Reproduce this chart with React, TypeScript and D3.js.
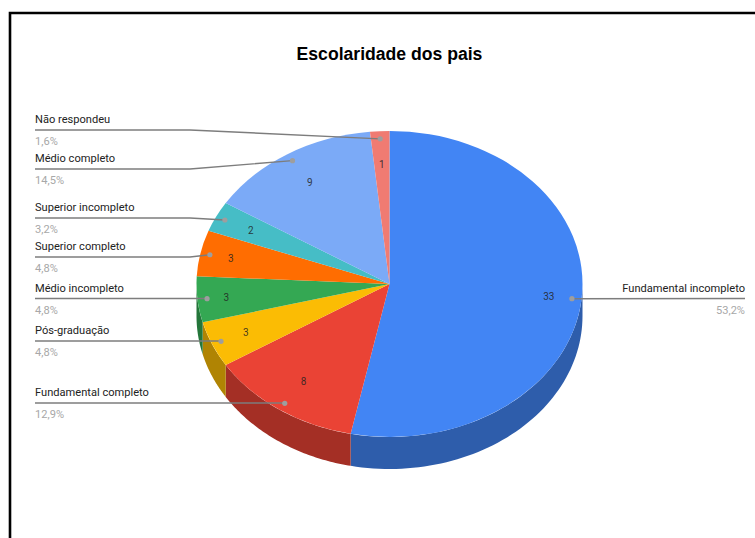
import React from "react";
import * as d3 from "d3";

const categories = ["Fundamental incompleto", "Fundamental completo", "Pós-graduação", "Médio incompleto", "Superior completo", "Superior incompleto", "Médio completo", "Não respondeu"];
const counts = [33, 8, 3, 3, 3, 2, 9, 1];
const percentLabels = ["53,2%", "12,9%", "4,8%", "4,8%", "4,8%", "3,2%", "14,5%", "1,6%"];
const colors = ["#4285f4", "#ea4335", "#fbbc04", "#34a853", "#ff6d01", "#46bdc6", "#7baaf7", "#f07b72"];
const title = "Escolaridade dos pais";

// layout per slice
const leaderY = [298.5, 403, 341, 298.5, 257, 218, 169, 130];
const valueRadius = [0.83, 0.78, 0.81, 0.85, 0.84, 0.8, 0.78, 0.78];

const W = 755, H = 538;
const cx = 389.5, cy = 284, rx = 193, ry = 153, depth = 32;
const leftX = 35, rightX = 745, elbowX = 190;
const sy = ry / rx;
const font = "Roboto, Arial, sans-serif";

const pieGen = d3.pie<number>().sort(null).value((d) => d);
const arcs = pieGen(counts);
const arcGen = d3.arc<d3.PieArcDatum<number>>().innerRadius(0).outerRadius(rx);
const project = (a: number, f = 1, dy = 0): [number, number] => [
  cx + rx * f * Math.sin(a),
  cy - ry * f * Math.cos(a) + dy,
];
const lineGen = d3.line<[number, number]>();

function wallPath(start: number, end: number) {
  const a0 = Math.max(start, Math.PI / 2);
  const a1 = Math.min(end, (3 * Math.PI) / 2);
  if (a1 <= a0) return null;
  const angles = d3.range(0, 61).map((i) => a0 + ((a1 - a0) * i) / 60);
  const top = angles.map((a) => project(a));
  const bottom = angles.slice().reverse().map((a) => project(a, 1, depth));
  return lineGen([...top, ...bottom]) + "Z";
}

export default function App() {
  return (
    <svg width={W} height={H} style={{ position: "absolute", left: 0, top: 0, background: "#fff" }} fontFamily={font}>
      <path d={`M10 ${H}V13H${W}`} fill="none" stroke="#000" strokeWidth={2.6} />
      <text x={389.5} y={60} textAnchor="middle" fontSize={17.6} fontWeight={700} fill="#000" fontFamily="'Liberation Sans', Arial, sans-serif">{title}</text>

      {arcs.map((a, i) => {
        const d = wallPath(a.startAngle, a.endAngle);
        return d ? <path key={i} d={d} fill={d3.rgb(colors[i]).darker(1).formatHex()} /> : null;
      })}
      <g transform={`translate(${cx},${cy}) scale(1,${sy})`}>
        {arcs.map((a, i) => (
          <path key={i} d={arcGen(a) || ""} fill={colors[i]} />
        ))}
      </g>

      {arcs.map((a, i) => {
        const mid = (a.startAngle + a.endAngle) / 2;
        const [px, py] = project(mid, valueRadius[i]);
        return (
          <text key={i} x={px} y={py + 3.5} textAnchor="middle" fontSize={10} fill="#222" fillOpacity={0.85}>{counts[i]}</text>
        );
      })}

      {arcs.map((a, i) => {
        const mid = (a.startAngle + a.endAngle) / 2;
        const dot = project(mid, 0.95);
        const y = leaderY[i];
        const right = i === 0;
        const pts: [number, number][] = right
          ? [dot, [rightX, y]]
          : Math.abs(dot[1] - y) < 1.5
          ? [[leftX, y], [dot[0], y]]
          : [[leftX, y], [elbowX, y], dot];
        const tx = right ? rightX : leftX;
        const anchor = right ? "end" : "start";
        return (
          <g key={i}>
            <path d={lineGen(pts) || ""} fill="none" stroke="#7d7d7d" strokeWidth={1.4} />
            <circle cx={dot[0]} cy={dot[1]} r={2.6} fill="#9e9e9e" />
            <text x={tx} y={y - 7} textAnchor={anchor} fontSize={11.1} fill="#222">{categories[i]}</text>
            <text x={tx} y={y + 15} textAnchor={anchor} fontSize={11.1} fill="#a8a8a8">{percentLabels[i]}</text>
          </g>
        );
      })}
    </svg>
  );
}
